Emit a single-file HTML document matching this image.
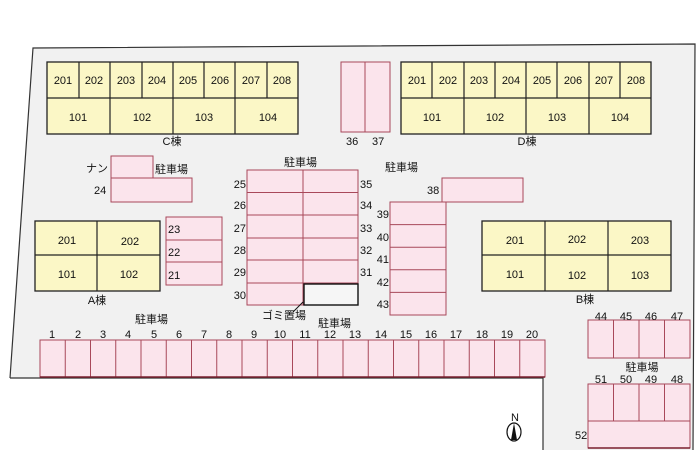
<!DOCTYPE html>
<html><head><meta charset="utf-8"><style>
html,body{margin:0;padding:0;background:#fff}
svg{display:block}
text{font-family:"Liberation Sans","Noto Sans CJK JP",sans-serif;font-size:11px;fill:#111}
.y{fill:#fbf7c6;stroke:#222;stroke-width:1.3}
.p{fill:#fbe4ec;stroke:#a8485a;stroke-width:1}
</style></head><body>
<svg width="700" height="466" viewBox="0 0 700 466">
<polygon points="33,48 695,44 693,450 543,450 543,378 10,378" fill="#f1f1f1"/>
<polyline points="10,378 33,48 695,44 693,450" fill="none" stroke="#333" stroke-width="1.2"/>
<polyline points="10,378 543,378 543,450" fill="none" stroke="#333" stroke-width="1.2"/>

<!-- C building -->
<rect class="y" x="47" y="62" width="251" height="72"/>
<g stroke="#222" stroke-width="1.2">
<line x1="47" y1="98" x2="298" y2="98"/>
<line x1="79" y1="62" x2="79" y2="98"/><line x1="110" y1="62" x2="110" y2="134"/><line x1="142" y1="62" x2="142" y2="98"/><line x1="173" y1="62" x2="173" y2="134"/><line x1="204" y1="62" x2="204" y2="98"/><line x1="235" y1="62" x2="235" y2="134"/><line x1="267" y1="62" x2="267" y2="98"/>
</g>
<g text-anchor="middle">
<text x="63" y="84">201</text><text x="94" y="84">202</text><text x="126" y="84">203</text><text x="157" y="84">204</text><text x="188" y="84">205</text><text x="220" y="84">206</text><text x="251" y="84">207</text><text x="282" y="84">208</text>
<text x="78" y="121">101</text><text x="142" y="121">102</text><text x="204" y="121">103</text><text x="268" y="121">104</text>
<text x="172" y="145">C棟</text>
</g>

<!-- 36/37 -->
<rect class="p" x="341" y="62" width="49" height="70"/><line x1="365" y1="62" x2="365" y2="132" stroke="#a8485a"/>
<text x="346" y="145">36</text><text x="372" y="145">37</text>

<!-- D building -->
<rect class="y" x="401" y="62" width="250" height="72"/>
<g stroke="#222" stroke-width="1.2">
<line x1="401" y1="98" x2="651" y2="98"/>
<line x1="432" y1="62" x2="432" y2="98"/><line x1="464" y1="62" x2="464" y2="134"/><line x1="495" y1="62" x2="495" y2="98"/><line x1="526" y1="62" x2="526" y2="134"/><line x1="557" y1="62" x2="557" y2="98"/><line x1="589" y1="62" x2="589" y2="134"/><line x1="620" y1="62" x2="620" y2="98"/>
</g>
<g text-anchor="middle">
<text x="417" y="84">201</text><text x="448" y="84">202</text><text x="479" y="84">203</text><text x="511" y="84">204</text><text x="542" y="84">205</text><text x="573" y="84">206</text><text x="604" y="84">207</text><text x="636" y="84">208</text>
<text x="432" y="121">101</text><text x="495" y="121">102</text><text x="557" y="121">103</text><text x="620" y="121">104</text>
<text x="527" y="145">D棟</text>
</g>

<!-- 24 area -->
<rect class="p" x="111" y="156" width="42" height="22"/>
<rect class="p" x="111" y="178" width="81" height="24"/>
<text x="86" y="172">ナン</text><text x="94" y="194">24</text><text x="155" y="173">駐車場</text>

<!-- A building -->
<rect class="y" x="35" y="221" width="125" height="70"/>
<g stroke="#222" stroke-width="1.2"><line x1="97" y1="221" x2="97" y2="291"/><line x1="35" y1="255" x2="160" y2="255"/></g>
<g text-anchor="middle"><text x="67" y="244">201</text><text x="130" y="245">202</text><text x="67" y="278">101</text><text x="129" y="278">102</text><text x="97" y="304">A棟</text></g>

<!-- 21-23 -->
<rect class="p" x="166" y="217" width="56" height="68"/>
<line x1="166" y1="240" x2="222" y2="240" stroke="#a8485a"/><line x1="166" y1="262" x2="222" y2="262" stroke="#a8485a"/>
<text x="168" y="233">23</text><text x="168" y="256">22</text><text x="168" y="279">21</text>

<!-- 25-35 -->
<rect class="p" x="247" y="170" width="111" height="135"/>
<g stroke="#a8485a"><line x1="303" y1="170" x2="303" y2="305"/>
<line x1="247" y1="192.5" x2="358" y2="192.5"/><line x1="247" y1="215" x2="358" y2="215"/><line x1="247" y1="238" x2="358" y2="238"/><line x1="247" y1="260" x2="358" y2="260"/><line x1="247" y1="283" x2="358" y2="283"/></g>
<rect x="304" y="284" width="54" height="21" fill="#f6f6f6" stroke="#111" stroke-width="1.4"/>
<line x1="303" y1="302" x2="293" y2="312" stroke="#111"/>
<g text-anchor="end"><text x="246" y="188">25</text><text x="246" y="209">26</text><text x="246" y="232">27</text><text x="246" y="254">28</text><text x="246" y="276">29</text><text x="246" y="299">30</text></g>
<text x="360" y="188">35</text><text x="360" y="209">34</text><text x="360" y="232">33</text><text x="360" y="254">32</text><text x="360" y="276">31</text>
<text x="284" y="166">駐車場</text>
<text x="262" y="319" font-size="10">ゴミ置場</text>

<!-- 38-43 -->
<text x="385" y="171">駐車場</text>
<rect class="p" x="442" y="178" width="81" height="24"/><text x="427" y="194">38</text>
<rect class="p" x="390" y="202" width="56" height="113"/>
<g stroke="#a8485a"><line x1="390" y1="224.6" x2="446" y2="224.6"/><line x1="390" y1="247.2" x2="446" y2="247.2"/><line x1="390" y1="269.8" x2="446" y2="269.8"/><line x1="390" y1="292.4" x2="446" y2="292.4"/></g>
<g text-anchor="end"><text x="389" y="218">39</text><text x="389" y="241">40</text><text x="389" y="263">41</text><text x="389" y="286">42</text><text x="389" y="308">43</text></g>

<!-- B building -->
<rect class="y" x="482" y="221" width="189" height="70"/>
<g stroke="#222" stroke-width="1.2"><line x1="545" y1="221" x2="545" y2="291"/><line x1="608" y1="221" x2="608" y2="291"/><line x1="482" y1="255" x2="671" y2="255"/></g>
<g text-anchor="middle"><text x="515" y="244">201</text><text x="577" y="243">202</text><text x="640" y="244">203</text><text x="515" y="278">101</text><text x="577" y="279">102</text><text x="640" y="279">103</text><text x="585" y="303">B棟</text></g>

<!-- 1-20 -->
<text x="135" y="323">駐車場</text><text x="318" y="327">駐車場</text>
<rect class="p" x="40" y="340" width="505" height="37"/>
<g stroke="#a8485a" id="div">
<line x1="65.25" y1="340" x2="65.25" y2="377"/><line x1="90.5" y1="340" x2="90.5" y2="377"/><line x1="115.75" y1="340" x2="115.75" y2="377"/><line x1="141" y1="340" x2="141" y2="377"/><line x1="166.25" y1="340" x2="166.25" y2="377"/><line x1="191.5" y1="340" x2="191.5" y2="377"/><line x1="216.75" y1="340" x2="216.75" y2="377"/><line x1="242" y1="340" x2="242" y2="377"/><line x1="267.25" y1="340" x2="267.25" y2="377"/><line x1="292.5" y1="340" x2="292.5" y2="377"/><line x1="317.75" y1="340" x2="317.75" y2="377"/><line x1="343" y1="340" x2="343" y2="377"/><line x1="368.25" y1="340" x2="368.25" y2="377"/><line x1="393.5" y1="340" x2="393.5" y2="377"/><line x1="418.75" y1="340" x2="418.75" y2="377"/><line x1="444" y1="340" x2="444" y2="377"/><line x1="469.25" y1="340" x2="469.25" y2="377"/><line x1="494.5" y1="340" x2="494.5" y2="377"/><line x1="519.75" y1="340" x2="519.75" y2="377"/>
</g>
<line x1="40" y1="377" x2="545" y2="377" stroke="#7a1f2e" stroke-width="1.5"/>
<g text-anchor="middle">
<text x="52" y="338">1</text><text x="78" y="338">2</text><text x="103" y="338">3</text><text x="128" y="338">4</text><text x="154" y="338">5</text><text x="179" y="338">6</text><text x="204" y="338">7</text><text x="229" y="338">8</text><text x="254" y="338">9</text><text x="280" y="338">10</text><text x="305" y="338">11</text><text x="330" y="338">12</text><text x="355" y="338">13</text><text x="381" y="338">14</text><text x="406" y="338">15</text><text x="431" y="338">16</text><text x="456" y="338">17</text><text x="482" y="338">18</text><text x="507" y="338">19</text><text x="532" y="338">20</text>
</g>

<!-- 44-52 -->
<rect class="p" x="588" y="320" width="102" height="38"/>
<g stroke="#a8485a"><line x1="613.5" y1="320" x2="613.5" y2="358"/><line x1="639" y1="320" x2="639" y2="358"/><line x1="664.5" y1="320" x2="664.5" y2="358"/></g>
<g text-anchor="middle"><text x="601" y="320">44</text><text x="626" y="320">45</text><text x="651" y="320">46</text><text x="677" y="320">47</text>
<text x="642" y="371">駐車場</text>
<text x="601" y="383">51</text><text x="626" y="383">50</text><text x="651" y="383">49</text><text x="677" y="383">48</text></g>
<rect class="p" x="588" y="384" width="102" height="64"/>
<g stroke="#a8485a"><line x1="613.5" y1="384" x2="613.5" y2="421"/><line x1="639" y1="384" x2="639" y2="421"/><line x1="664.5" y1="384" x2="664.5" y2="421"/><line x1="588" y1="421" x2="690" y2="421"/></g>
<line x1="588" y1="448" x2="690" y2="448" stroke="#7a1f2e" stroke-width="1.5"/>
<text x="575" y="439">52</text>

<!-- compass -->
<text x="511" y="421" font-size="8">N</text>
<ellipse cx="514" cy="432" rx="7" ry="9" fill="#fff" stroke="#111" stroke-width="1.2"/>
<polygon points="514,423 511,440 517,440" fill="#111"/>
</svg>
</body></html>
